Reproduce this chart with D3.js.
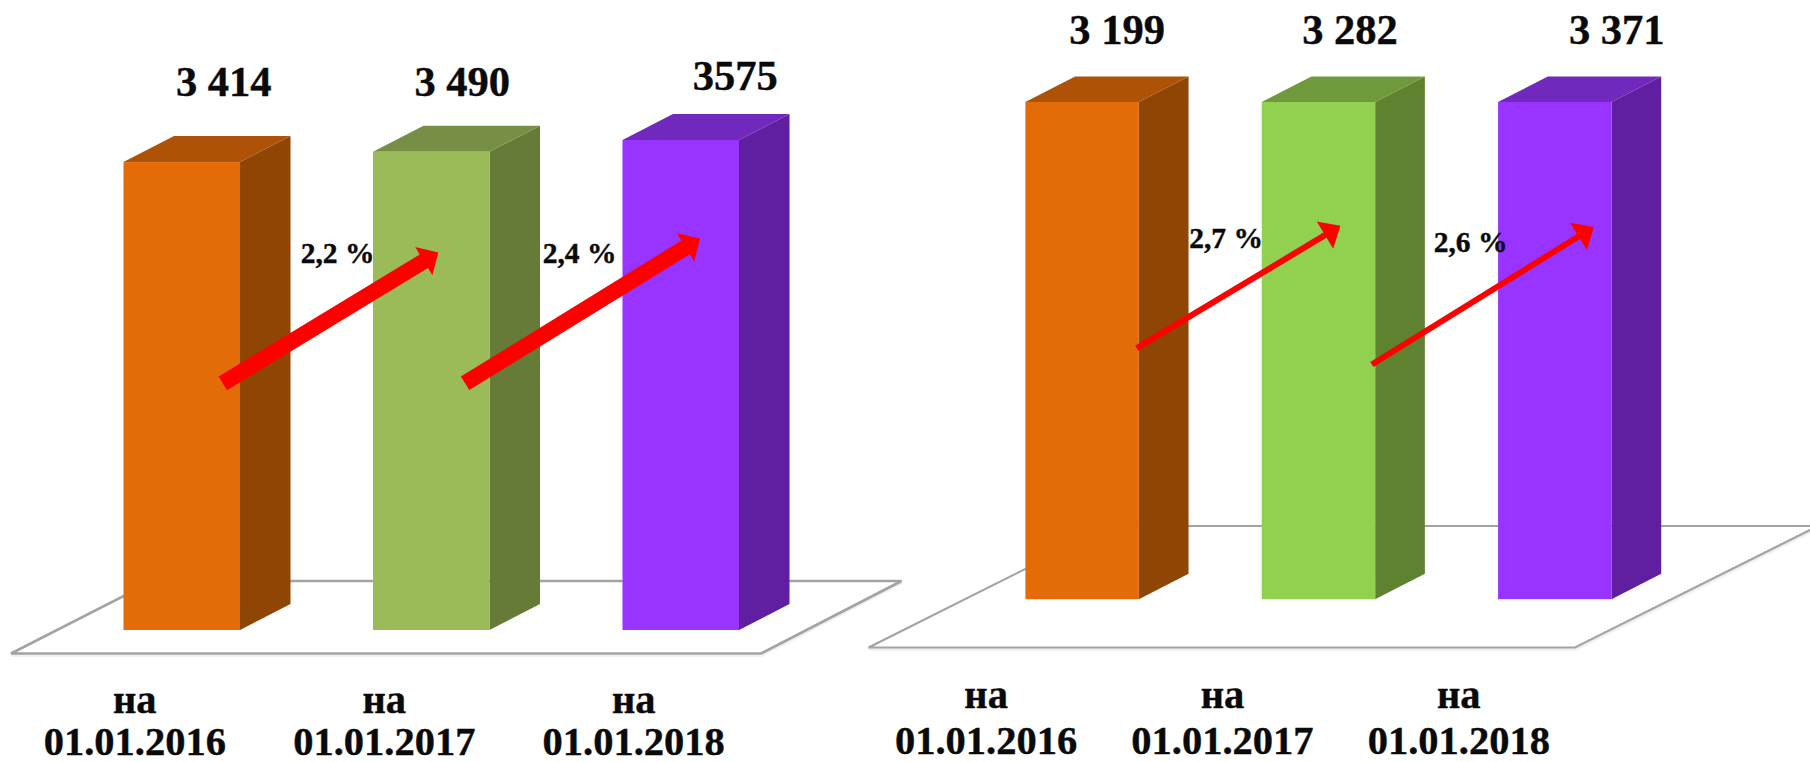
<!DOCTYPE html>
<html lang="ru">
<head>
<meta charset="utf-8">
<script src="https://cdn.jsdelivr.net/npm/d3@7"></script>
<style>
html,body{margin:0;padding:0;background:#fff;overflow:hidden}
svg{display:block}
text{font-family:"Liberation Serif","Times New Roman",serif;font-weight:700;fill:#0a0a0a;stroke:#0a0a0a;stroke-width:.4px;text-anchor:middle}
</style>
</head>
<body>
<svg id="chart" width="1810" height="762"></svg>
<script>
const categories = ["01.01.2016", "01.01.2017", "01.01.2018"];
const prefix = "на";

const leftValues = [3414, 3490, 3575];
const leftValueLabels = ["3 414", "3 490", "3575"];
const leftGrowth = ["2,2 %", "2,4 %"];
// arrows: [category position from, value level from, category position to, value level to]
const leftArrows = [[0.398, 1800, 1.262, 2755], [1.369, 1800, 2.311, 2857]];

const rightValues = [3199, 3282, 3371];
const rightValueLabels = ["3 199", "3 282", "3 371"];
const rightGrowth = ["2,7 %", "2,6 %"];
const rightArrows = [[0.471, 1615, 1.333, 2402], [1.466, 1510, 2.405, 2395]];

const palette = {
  left:  [["#E36C09","#AD5207","#8F4504"],["#9BBB59","#778F45","#677B38"],["#9933FF","#7028BD","#5F1FA0"]],
  right: [["#E36C09","#AD5207","#8F4504"],["#92D050","#6F9A3C","#5F8230"],["#9933FF","#7028BD","#5F1FA0"]]
};

const svg = d3.select("#chart");

function drawChart(cfg){
  const g = svg.append("g");
  const x = d3.scaleBand().domain(categories).range(cfg.xRange)
    .paddingInner(cfg.padInner).paddingOuter(0);
  const y = d3.scaleLinear().domain(cfg.yDomain).range(cfg.yRange).clamp(true);
  const pos = d3.scaleLinear().domain([0,1]).range([x(categories[0]), x(categories[1])]);
  const bw = x.bandwidth();
  const base = y(0);
  const [dx,dy] = cfg.depth;
  const line = d3.line();

  // floor
  g.append("path")
    .attr("d", line(cfg.floor)+"Z")
    .attr("fill","#f0f0f0").attr("stroke","#f0f0f0").attr("stroke-width",3)
    .attr("transform","translate(0,2)");
  g.append("path")
    .attr("d", line(cfg.floor)+"Z")
    .attr("fill","#fff").attr("stroke","#a3a3a3").attr("stroke-width",cfg.floorStroke)
    .attr("stroke-linejoin","miter");

  // bars
  const bars = g.selectAll("g.bar").data(cfg.values).join("g").attr("class","bar");
  bars.append("path") // side
    .attr("fill",(d,i)=>cfg.colors[i][2])
    .attr("d",(d,i)=>{const l=x(categories[i])+bw,t=y(d);
      return line([[l,t],[l+dx,t+dy],[l+dx,base+dy],[l,base]])+"Z";});
  bars.append("path") // top
    .attr("fill",(d,i)=>cfg.colors[i][1])
    .attr("d",(d,i)=>{const l=x(categories[i]),t=y(d);
      return line([[l,t],[l+dx,t+dy],[l+bw+dx,t+dy],[l+bw,t]])+"Z";});
  bars.append("rect") // front
    .attr("x",(d,i)=>x(categories[i])).attr("width",bw)
    .attr("y",d=>y(d)).attr("height",d=>base-y(d))
    .attr("fill",(d,i)=>cfg.colors[i][0]);

  // value labels
  g.selectAll("text.val").data(cfg.valueLabels).join("text").attr("class","val")
    .attr("x",(d,i)=>x(categories[i])+bw/2+cfg.valOffsets[i][0])
    .attr("y",(d,i)=>cfg.valOffsets[i][1])
    .attr("font-size",cfg.valFont).text(d=>d);

  // arrows
  g.selectAll("path.arrow").data(cfg.arrows).join("path").attr("class","arrow")
    .attr("fill","#ff0000")
    .attr("d",a=>{
      const x0=pos(a[0]),y0=y(a[1]),x1=pos(a[2]),y1=y(a[3]);
      const L=Math.hypot(x1-x0,y1-y0),ux=(x1-x0)/L,uy=(y1-y0)/L,nx=-uy,ny=ux;
      const s=cfg.shaft/2,hw=cfg.headWidth/2,hl=cfg.headLen;
      const bx=x1-ux*hl,by=y1-uy*hl;
      return line([[x0+nx*s,y0+ny*s],[bx+nx*s,by+ny*s],[bx+nx*hw,by+ny*hw],[x1,y1],
                   [bx-nx*hw,by-ny*hw],[bx-nx*s,by-ny*s],[x0-nx*s,y0-ny*s]])+"Z";
    });

  // growth labels
  g.selectAll("text.pct").data(cfg.growth).join("text").attr("class","pct")
    .attr("x",(d,i)=>cfg.pctPos[i][0]).attr("y",(d,i)=>cfg.pctPos[i][1])
    .attr("font-size",cfg.pctFont).text(d=>d);

  // category labels
  const cat = g.selectAll("g.cat").data(categories).join("g").attr("class","cat")
    .attr("transform",d=>`translate(${x(d)+bw/2+cfg.catOffset},0)`);
  cat.append("text").attr("y",cfg.catBase[0]).attr("font-size",cfg.catFont).text(prefix);
  cat.append("text").attr("y",cfg.catBase[1]).attr("font-size",cfg.catFont).text(d=>d);
}

drawChart({
  values:leftValues, valueLabels:leftValueLabels, growth:leftGrowth, arrows:leftArrows,
  colors:palette.left,
  xRange:[123.5,739], padInner:0.533,
  yDomain:[0,3575], yRange:[630,140],
  depth:[50.5,-26],
  floor:[[11,653.5],[761,653.5],[901.5,581],[153,581]], floorStroke:2.6,
  valOffsets:[[42,96],[31,96],[54.5,90]], valFont:42.5,
  shaft:16, headWidth:33, headLen:17,
  pctPos:[[337.5,263],[579.5,263]], pctFont:29.5,
  catOffset:-47, catBase:[713,754.5], catFont:40.5
});

drawChart({
  values:rightValues, valueLabels:rightValueLabels, growth:rightGrowth, arrows:rightArrows,
  colors:palette.right,
  xRange:[1025.4,1611.5], padInner:0.52,
  yDomain:[0,3199], yRange:[599.2,102],
  depth:[49.7,-25.5],
  floor:[[868.6,647.5],[1575,647.5],[1818,526],[1111,526]], floorStroke:2.2,
  valOffsets:[[35,44],[31.5,44],[62,44]], valFont:42.5,
  shaft:6, headWidth:32, headLen:18,
  pctPos:[[1226,248],[1470.5,251.5]], pctFont:29.5,
  catOffset:-96, catBase:[707.5,754], catFont:40.5
});
</script>
</body>
</html>
